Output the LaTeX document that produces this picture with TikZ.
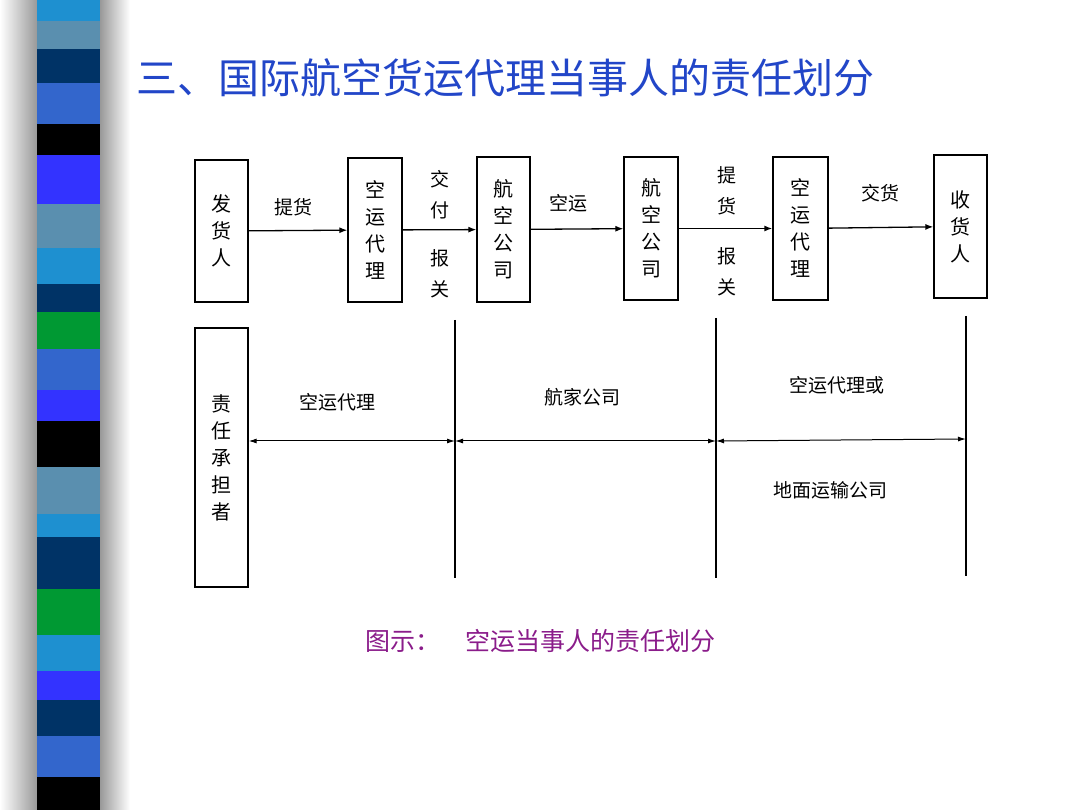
\documentclass[tikz,border=0pt]{standalone}
\usepackage{fontspec}
\setmainfont{Noto Sans CJK SC}
\usetikzlibrary{arrows.meta}
\definecolor{titleblue}{HTML}{2246C8}
\definecolor{capviolet}{HTML}{8A1C8A}
\tikzset{
  party/.style={rectangle, draw, line width=1.3pt, inner sep=0pt, align=center, font=\fontsize{20}{27}\selectfont},
  lab/.style={font=\fontsize{19}{31}\selectfont, align=center},
  flow/.style={line width=1.3pt, -{Latex[length=8pt,width=6pt]}},
  duty/.style={line width=1pt, {Latex[length=8pt,width=5pt]}-{Latex[length=8pt,width=5pt]}},
  divider/.style={line width=1.2pt}
}
\begin{document}
\begin{tikzpicture}[x=1pt,y=-1pt]
  \useasboundingbox (0,0) rectangle (1080,810);
  % stripe band
  \shade[left color=white, right color=gray!80] (0,0) rectangle (37,810);
  \shade[left color=gray!80, right color=white] (100,0) rectangle (130,810);
  \foreach \ya/\yb/\c in {0/21/1E90D0, 21/49/5A8FAF, 49/83/003366, 83/124/3366CC, 124/155/000000,
      155/204/3333FF, 204/248/5A8FAF, 248/284/1E90D0, 284/312/003366, 312/349/009933,
      349/390/3366CC, 390/421/3333FF, 421/467/000000, 467/514/5A8FAF, 514/537/1E90D0,
      537/589/003366, 589/635/009933, 635/671/1E90D0, 671/700/3333FF, 700/736/003366,
      736/777/3366CC, 777/810/000000}
  {
    \definecolor{stripe}{HTML}{\c}
    \fill[stripe] (37,\ya) rectangle (100,\yb);
  }
  % title
  \node (title) [text=titleblue, font=\fontsize{41}{46}\selectfont, anchor=west, inner sep=0pt] at (136,78) {三、国际航空货运代理当事人的责任划分};

  % Nodes
  \node (shipper) [party, minimum width=53pt, minimum height=142pt] at (221.5,231) {发\\货\\人};
  \node (agentA) [party, minimum width=54pt, minimum height=144pt] at (375,230) {空\\运\\代\\理};
  \node (airA) [party, minimum width=53pt, minimum height=145pt] at (503.5,229.5) {航\\空\\公\\司};
  \node (airB) [party, minimum width=54pt, minimum height=143pt] at (651,228.5) {航\\空\\公\\司};
  \node (agentB) [party, minimum width=55pt, minimum height=143pt] at (800.5,228.5) {空\\运\\代\\理};
  \node (consignee) [party, minimum width=53pt, minimum height=143pt] at (960.5,226.5) {收\\货\\人};
  \node (bearer) [party, minimum width=53pt, minimum height=259pt] at (221.5,457.5) {责\\任\\承\\担\\者};

  % Labels
  \node (pickA) [lab] at (293,207) {提货};
  \node (handA) [lab] at (440,195) {交\\付};
  \node (custA) [lab] at (440,274) {报\\关};
  \node (fly) [lab] at (568,203) {空运};
  \node (pickB) [lab] at (727,191) {提\\货};
  \node (custB) [lab] at (727,272) {报\\关};
  \node (deliver) [lab] at (880,193) {交货};

  % Arrows
  \draw [flow] (shipper) -- (agentA);
  \draw [flow] (agentA) -- (airA);
  \draw [flow] (airA) -- (airB);
  \draw [flow] (airB) -- (agentB);
  \draw [flow] (agentB) -- (consignee);

  % Responsibility bands
  \coordinate (cutA top) at (455,320);
  \coordinate (cutA bot) at (455,578);
  \coordinate (cutB top) at (716,318);
  \coordinate (cutB bot) at (716,578);
  \coordinate (cutC top) at (966,316);
  \coordinate (cutC bot) at (966,576);
  \coordinate (cutA mid) at (455,441);
  \coordinate (cutB mid) at (716,441);
  \coordinate (cutC mid) at (966,439);
  \draw [divider] (cutA top) -- (cutA bot);
  \draw [divider] (cutB top) -- (cutB bot);
  \draw [divider] (cutC top) -- (cutC bot);
  \draw [duty] (bearer.east |- cutA mid) -- (cutA mid);
  \draw [duty] (cutA mid) -- (cutB mid);
  \draw [duty] (cutB mid) -- (cutC mid);
  \node (dutyA) [lab] at (337,402) {空运代理};
  \node (dutyB) [lab] at (582,397) {航家公司};
  \node (dutyC) [lab] at (837,385) {空运代理或};
  \node (dutyD) [lab] at (830,490) {地面运输公司};

  % caption
  \node (caption) [text=capviolet, font=\fontsize{25}{30}\selectfont] at (540,641) {图示：\quad 空运当事人的责任划分};
\end{tikzpicture}
\end{document}
